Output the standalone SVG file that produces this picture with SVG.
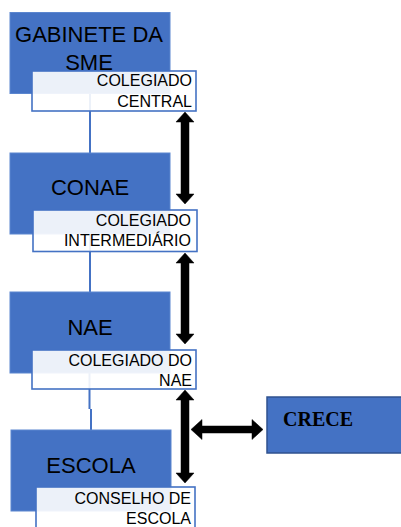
<svg xmlns="http://www.w3.org/2000/svg" width="401" height="527" viewBox="0 0 401 527">
<style>
.main{fill:#4472C4;stroke:#5B86CF;stroke-width:1}
.lbl{fill:#fff;fill-opacity:0.9;stroke:#4472C4;stroke-width:1.6}
.t1{font-family:"Liberation Sans",Arial,sans-serif;font-size:22px;fill:#000;text-anchor:middle}
.t2{font-family:"Liberation Sans",Arial,sans-serif;font-size:16px;fill:#000;text-anchor:end}
.con{stroke:#4472C4;stroke-width:2;fill:none}
.arr{fill:#000;stroke:#000;stroke-width:0.5}
.crece{fill:#4472C4;stroke:#2F528F;stroke-width:1.5}
.t3{font-family:"Liberation Serif","Times New Roman",serif;font-size:20px;font-weight:bold;fill:#000}
</style>
<rect width="401" height="527" fill="#fff"/>
<g id="connectors">
<line class="con" x1="90" y1="93" x2="90" y2="153"/>
<line class="con" x1="90" y1="234" x2="90" y2="292"/>
<path class="con" d="M89.5 373 V409 M91 409 V430"/>
<polygon class="arr" points="185,112 194,122 189,122 189,194 194,194 185,204 176,194 181,194 181,122 176,122"/>
<polygon class="arr" points="185,253 194,263 189,263 189,334 194,334 185,344 176,334 181,334 181,263 176,263"/>
<polygon class="arr" points="185,390 194,400 189,400 189,473 194,473 185,483 176,473 181,473 181,400 176,400"/>
<polygon class="arr" points="191,429.5 202,419.5 202,426 252,426 252,419.5 263,429.5 252,439.5 252,433 202,433 202,439.5"/>
</g>
<g id="gabinete">
<rect class="main" x="10" y="12.5" width="160" height="81"/>
<text class="t1" x="89" y="41.5">GABINETE DA</text>
<text class="t1" x="89" y="70">SME</text>
</g>
<g id="colegiado-central">
<rect class="lbl" x="32" y="71" width="164" height="40"/>
<text class="t2" x="192" y="85.5">COLEGIADO</text>
<text class="t2" x="192" y="106.5">CENTRAL</text>
</g>
<g id="conae">
<rect class="main" x="10" y="153" width="160" height="81"/>
<text class="t1" x="90" y="195">CONAE</text>
</g>
<g id="colegiado-intermediario">
<rect class="lbl" x="33" y="210" width="164" height="41.5"/>
<text class="t2" x="191" y="225.5">COLEGIADO</text>
<text class="t2" x="191" y="245.5">INTERMEDIÁRIO</text>
</g>
<g id="nae">
<rect class="main" x="10" y="292" width="160" height="81"/>
<text class="t1" x="90" y="335">NAE</text>
</g>
<g id="colegiado-nae">
<rect class="lbl" x="32" y="350" width="164" height="39"/>
<text class="t2" x="192" y="365.5">COLEGIADO DO</text>
<text class="t2" x="192" y="385.5">NAE</text>
</g>
<g id="escola">
<rect class="main" x="11" y="430" width="160" height="81"/>
<text class="t1" x="91" y="472.5">ESCOLA</text>
</g>
<g id="conselho-escola">
<rect class="lbl" x="36" y="487" width="159" height="45"/>
<text class="t2" x="191" y="503.5">CONSELHO DE</text>
<text class="t2" x="191" y="523.5">ESCOLA</text>
</g>
<g id="crece">
<rect class="crece" x="267" y="397" width="136" height="56"/>
<text class="t3" x="283" y="426">CRECE</text>
</g>
</svg>
